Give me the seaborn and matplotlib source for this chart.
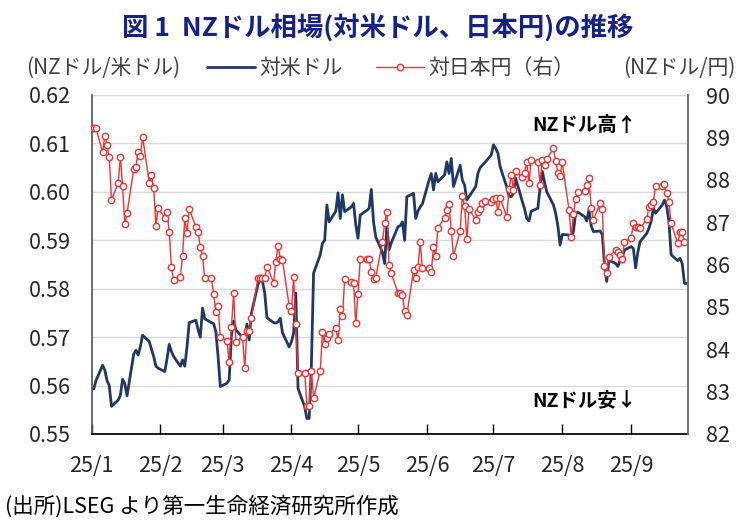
import matplotlib
matplotlib.use("Agg")
import matplotlib.pyplot as plt
from matplotlib.lines import Line2D
import seaborn as sns
import pandas as pd
import numpy as np

# 営業日（2025/1/1〜2025/9/26）
dates = pd.bdate_range("2025-01-01", "2025-09-26")

# NZドル/米ドル（左軸）
usd_jan = [0.5594, 0.5593, 0.5610, 0.5642, 0.5632, 0.5610, 0.5600, 0.5557, 0.5570, 0.5580,
           0.5613, 0.5604, 0.5579, 0.5665, 0.5673, 0.5663, 0.5680, 0.5704, 0.5691, 0.5675,
           0.5660, 0.5640, 0.5636]
usd_feb = [0.5629, 0.5655, 0.5685, 0.5670, 0.5660, 0.5640, 0.5653, 0.5640, 0.5680, 0.5730,
           0.5735, 0.5715, 0.5700, 0.5760, 0.5738, 0.5730, 0.5728, 0.5711, 0.5660, 0.5598]
usd_mar = [0.5605, 0.5612, 0.5704, 0.5733, 0.5715, 0.5700, 0.5698, 0.5727, 0.5694, 0.5749,
           0.5810, 0.5818, 0.5815, 0.5791, 0.5740, 0.5730, 0.5729, 0.5732, 0.5739, 0.5709,
           0.5680]
usd_apr = [0.5690, 0.5708, 0.5791, 0.5594, 0.5556, 0.5532, 0.5532, 0.5640, 0.5832, 0.5870,
           0.5894, 0.5900, 0.5973, 0.5938, 0.5960, 0.5998, 0.5945, 0.5994, 0.5959, 0.5969,
           0.5976, 0.5932]
usd_may = [0.5904, 0.5952, 0.5962, 0.5966, 0.6005, 0.5938, 0.5907, 0.5875, 0.5852, 0.5930,
           0.5880, 0.5895, 0.5928, 0.5930, 0.5938, 0.5900, 0.5990, 0.5997, 0.5945, 0.5960,
           0.5969, 0.5975]
usd_jun = [0.6024, 0.6038, 0.6004, 0.6038, 0.6021, 0.6035, 0.6062, 0.6038, 0.6069, 0.6011,
           0.6055, 0.6024, 0.6014, 0.5983, 0.5990, 0.6011, 0.6038, 0.6050, 0.6055, 0.6060,
           0.6076]
usd_jul = [0.6097, 0.6090, 0.6080, 0.6052, 0.6010, 0.5991, 0.5990, 0.5997, 0.6028, 0.5980,
           0.5965, 0.5945, 0.5940, 0.5960, 0.5966, 0.6010, 0.6042, 0.6020, 0.6000, 0.5973,
           0.5956, 0.5930, 0.5890]
usd_aug = [0.5912, 0.5911, 0.5905, 0.5918, 0.5955, 0.5958, 0.5949, 0.5940, 0.5963, 0.5930,
           0.5918, 0.5919, 0.5912, 0.5849, 0.5815, 0.5859, 0.5852, 0.5846, 0.5858, 0.5865,
           0.5880]
usd_sep = [0.5887, 0.5883, 0.5843, 0.5875, 0.5897, 0.5914, 0.5925, 0.5939, 0.5966, 0.5956,
           0.5973, 0.5983, 0.5970, 0.5940, 0.5870, 0.5858, 0.5863, 0.5852, 0.5811, 0.5811]

# NZドル/円（右軸）
jpy_jan = [89.21, 89.21, 89.21, 88.66, 89.04, 88.82, 88.53, 87.52, 87.92, 88.53,
           87.85, 86.95, 87.21, 88.25, 88.31, 88.66, 88.55, 89.02, 87.93, 88.11,
           87.81, 86.92, 87.33]
jpy_feb = [87.10, 87.23, 86.77, 85.93, 85.63, 85.71, 86.20, 87.09, 86.74, 87.31,
           86.89, 86.76, 86.41, 86.20, 85.67, 85.67, 85.30, 84.89, 85.03, 84.28]
jpy_mar = [84.20, 83.69, 84.53, 85.33, 84.18, 84.30, 83.56, 84.43, 84.44, 84.74,
           85.69, 85.69, 85.69, 85.69, 85.95, 85.57, 86.07, 86.44, 86.14, 86.10,
           85.03]
jpy_apr = [84.90, 85.70, 84.59, 83.45, 83.45, 82.67, 82.67, 83.49, 82.84, 83.49,
           84.41, 84.12, 84.26, 84.37, 84.49, 84.22, 84.94, 84.78, 85.65, 85.58,
           85.57, 84.61]
jpy_may = [85.30, 86.12, 86.12, 86.12, 85.83, 85.65, 85.69, 86.54, 86.97, 87.25,
           85.99, 85.79, 85.33, 85.33, 85.29, 84.90, 84.81, 85.87, 85.67, 85.95,
           86.52, 85.91]
jpy_jun = [85.91, 85.83, 86.41, 86.21, 86.87, 87.10, 87.29, 87.43, 86.80, 86.21,
           86.78, 87.62, 87.39, 86.60, 87.32, 87.05, 87.25, 87.31, 87.44, 87.50,
           87.47]
jpy_jul = [87.54, 87.56, 87.25, 87.56, 87.13, 87.77, 88.11, 87.76, 88.21, 88.06,
           88.17, 88.43, 87.92, 88.47, 88.43, 87.88, 88.47, 88.35, 88.49, 88.74,
           88.44, 88.17, 88.10]
jpy_aug = [88.41, 87.29, 86.66, 87.18, 87.55, 87.72, 87.73, 87.88, 88.03, 87.34,
           87.05, 87.44, 87.31, 85.97, 85.79, 86.18, 86.34, 86.29, 86.22, 86.13,
           86.54]
jpy_sep = [86.62, 86.97, 86.89, 86.89, 86.85, 87.07, 87.36, 87.40, 87.48, 87.86,
           87.86, 87.89, 87.68, 87.48, 86.97, 86.50, 86.76, 86.76, 86.54, np.nan]

month_labels = ["25/1", "25/2", "25/3", "25/4", "25/5", "25/6", "25/7", "25/8", "25/9"]

nzd_usd = usd_jan + usd_feb + usd_mar + usd_apr + usd_may + usd_jun + usd_jul + usd_aug + usd_sep
nzd_jpy = jpy_jan + jpy_feb + jpy_mar + jpy_apr + jpy_may + jpy_jun + jpy_jul + jpy_aug + jpy_sep

df = pd.DataFrame({"date": dates, "usd": nzd_usd, "jpy": nzd_jpy})

NAVY = "#1f3864"
RED = "#f03232"
TITLE = "#15218a"

sns.set_theme(style="white")
plt.rcParams["font.family"] = ["Noto Sans CJK JP", "DejaVu Sans"]

fig = plt.figure(figsize=(7.56, 5.32), dpi=100)
ax = fig.add_axes([91.5 / 756, 1 - 434 / 532, (688 - 91.5) / 756, (434 - 95) / 532])

sns.lineplot(data=df, x="date", y="usd", ax=ax, color=NAVY, linewidth=2, legend=False)

ax2 = ax.twinx()
sns.lineplot(data=df, x="date", y="jpy", ax=ax2, color=RED, linewidth=1, marker="o",
             markersize=4.6, markerfacecolor="white", markeredgecolor=RED,
             markeredgewidth=1, legend=False)

# 軸設定
start = pd.Timestamp("2025-01-01")
ax.set_xlim(start, start + pd.Timedelta(days=268.6))
ax.set_ylim(0.55, 0.62)
ax.set_yticks(np.arange(0.55, 0.6201, 0.01))
ax.set_yticklabels([f"{v:.2f}" for v in np.arange(0.55, 0.6201, 0.01)])
ax2.set_ylim(82, 90)
ax2.set_yticks(range(82, 91))

ticks = pd.date_range("2025-01-01", "2025-09-01", freq="MS")
ax.set_xticks(ticks)
ax.set_xticklabels(month_labels)

ax.set_xlabel("")
ax.set_ylabel("")
ax2.set_ylabel("")

ax.yaxis.grid(True, color="#d9d9d9", linewidth=1)
ax.xaxis.grid(False)
ax2.grid(False)

for a in (ax, ax2):
    a.spines["top"].set_visible(False)
ax.spines["left"].set_color("#595959")
ax.spines["bottom"].set_color("#000000")
ax2.spines["right"].set_color("#808080")
ax2.spines["left"].set_visible(False)
ax2.spines["bottom"].set_visible(False)

ax.tick_params(axis="x", direction="in", length=7, width=1, color="black",
               labelsize=15.5, pad=15, bottom=True)
ax.tick_params(axis="y", length=0, labelsize=15.5, pad=15)
ax2.tick_params(axis="y", length=0, labelsize=15.5, pad=13)

# 凡例
handles = [
    Line2D([], [], color=NAVY, linewidth=2),
    Line2D([], [], color=RED, linewidth=1, marker="o", markersize=4.6,
           markerfacecolor="white", markeredgecolor=RED),
]
fig.legend(handles, ["対米ドル", "対日本円（右）"], loc="center",
           bbox_to_anchor=(391 / 756, 1 - 68 / 532), ncol=2, frameon=False,
           fontsize=15, handlelength=2.3, columnspacing=1.6, handletextpad=0.2,
           labelcolor="#404040")

fig.text(103 / 756, 1 - 68 / 532, "(NZドル/米ドル)", ha="center", va="center",
         fontsize=15, color="#404040")
fig.text(679 / 756, 1 - 68 / 532, "(NZドル/円)", ha="center", va="center",
         fontsize=15, color="#404040")

fig.text(0.5, 1 - 29 / 532, "図 1  NZドル相場(対米ドル、日本円)の推移", ha="center",
         va="center", fontsize=19, fontweight="bold", color=TITLE)

fig.text(584 / 756, 1 - 125 / 532, "NZドル高↑", ha="center", va="center",
         fontsize=14, fontweight="bold", color="black")
fig.text(584 / 756, 1 - 401 / 532, "NZドル安↓", ha="center", va="center",
         fontsize=14, fontweight="bold", color="black")

fig.text(5 / 756, 1 - 507 / 532, "(出所)LSEG より第一生命経済研究所作成", ha="left",
         va="center", fontsize=15.5, color="black")

fig.savefig("out.png", dpi=100)
